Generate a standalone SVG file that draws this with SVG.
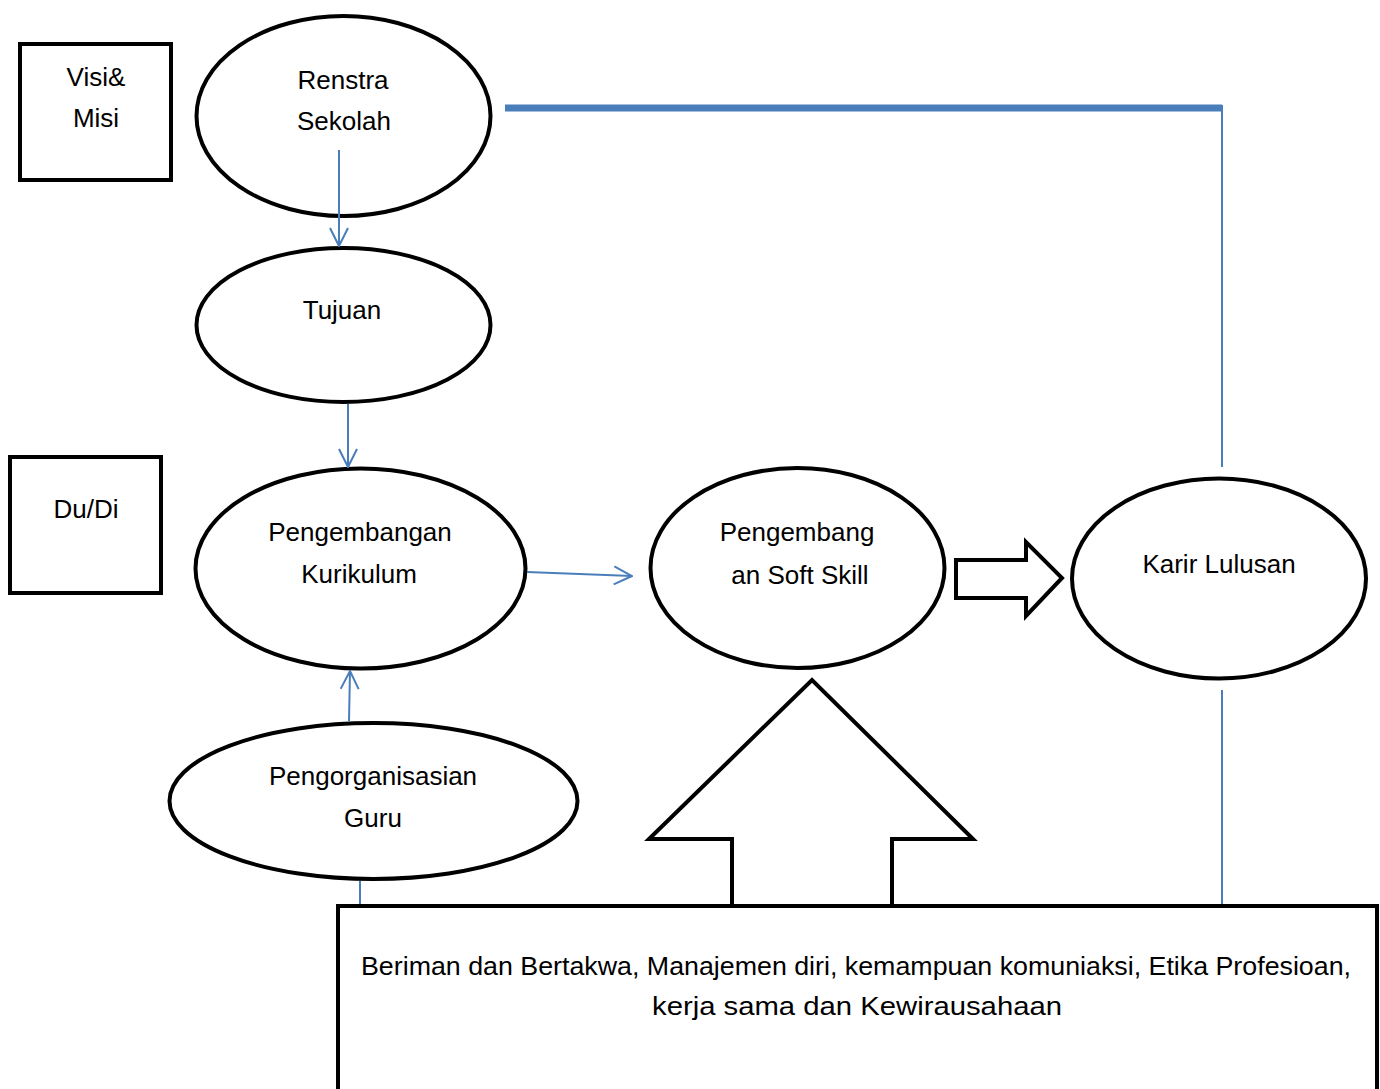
<svg xmlns="http://www.w3.org/2000/svg" width="1380" height="1089" viewBox="0 0 1380 1089">
<style>
.shape{fill:#fff;stroke:#000;stroke-width:4}
.t{font-family:"Liberation Sans",Arial,sans-serif;font-size:26px;fill:#000;text-anchor:middle}
.c{fill:none;stroke:#4a7ebb;stroke-width:2}
</style>
<defs>
<marker id="ah" viewBox="0 0 20 20" refX="19" refY="10" markerWidth="20" markerHeight="20" markerUnits="userSpaceOnUse" orient="auto">
<path d="M1,1 L19,10 L1,19" fill="none" stroke="#4a7ebb" stroke-width="2"/>
</marker>
</defs>
<rect width="1380" height="1089" fill="#fff"/>
<g id="visi-misi">
<rect class="shape" x="20" y="44" width="151" height="136"/>
<text class="t" x="96" y="86">Visi&amp;</text>
<text class="t" x="96" y="127">Misi</text>
</g>
<g id="renstra">
<ellipse class="shape" cx="343.5" cy="116" rx="147" ry="100"/>
<text class="t" x="343" y="89">Renstra</text>
<text class="t" x="344" y="130">Sekolah</text>
</g>
<g id="tujuan">
<ellipse class="shape" cx="343.5" cy="325" rx="147" ry="77"/>
<text class="t" x="342" y="319">Tujuan</text>
</g>
<g id="du-di">
<rect class="shape" x="10" y="457" width="151" height="136"/>
<text class="t" x="86" y="518">Du/Di</text>
</g>
<g id="kurikulum">
<ellipse class="shape" cx="360.5" cy="568.5" rx="165" ry="100"/>
<text class="t" x="360" y="541">Pengembangan</text>
<text class="t" x="359" y="583">Kurikulum</text>
</g>
<g id="guru">
<ellipse class="shape" cx="373.5" cy="801" rx="204" ry="78"/>
<text class="t" x="373" y="785">Pengorganisasian</text>
<text class="t" x="373" y="827">Guru</text>
</g>
<g id="softskill">
<ellipse class="shape" cx="797.5" cy="568" rx="147" ry="100"/>
<text class="t" x="797" y="541">Pengembang</text>
<text class="t" x="800" y="584">an Soft Skill</text>
</g>
<g id="karir">
<ellipse class="shape" cx="1219" cy="578.5" rx="147" ry="100"/>
<text class="t" x="1219" y="573">Karir Lulusan</text>
</g>
<g id="block-arrow-right">
<polygon class="shape" points="956,560 1026,560 1026,542 1062,578 1026,616 1026,598 956,598"/>
</g>
<g id="block-arrow-up">
<polygon class="shape" points="732,906 732,839 649,839 812,680 973,839 892,839 892,906"/>
</g>
<g id="attributes">
<rect class="shape" x="338" y="906" width="1039" height="200"/>
<text class="t" x="856" y="975" textLength="990" lengthAdjust="spacingAndGlyphs">Beriman dan Bertakwa, Manajemen diri, kemampuan komuniaksi, Etika Profesioan,</text>
<text class="t" x="857" y="1015" textLength="410" lengthAdjust="spacingAndGlyphs">kerja sama dan Kewirausahaan</text>
</g>
<g id="connectors">
<line x1="505" y1="108" x2="1222" y2="108" stroke="#4a7ebb" stroke-width="7"/>
<line class="c" x1="1222" y1="105" x2="1222" y2="467" stroke-width="1.5"/>
<line class="c" x1="1222" y1="690" x2="1222" y2="904" stroke-width="1.5"/>
<line class="c" x1="360" y1="881" x2="360" y2="904" stroke-width="1.5"/>
<line class="c" x1="339" y1="150" x2="339" y2="246" marker-end="url(#ah)"/>
<line class="c" x1="348" y1="404" x2="348" y2="467" marker-end="url(#ah)"/>
<line class="c" x1="527" y1="572" x2="632" y2="576" marker-end="url(#ah)"/>
<line class="c" x1="349" y1="721" x2="350" y2="671" marker-end="url(#ah)"/>
</g>
</svg>
